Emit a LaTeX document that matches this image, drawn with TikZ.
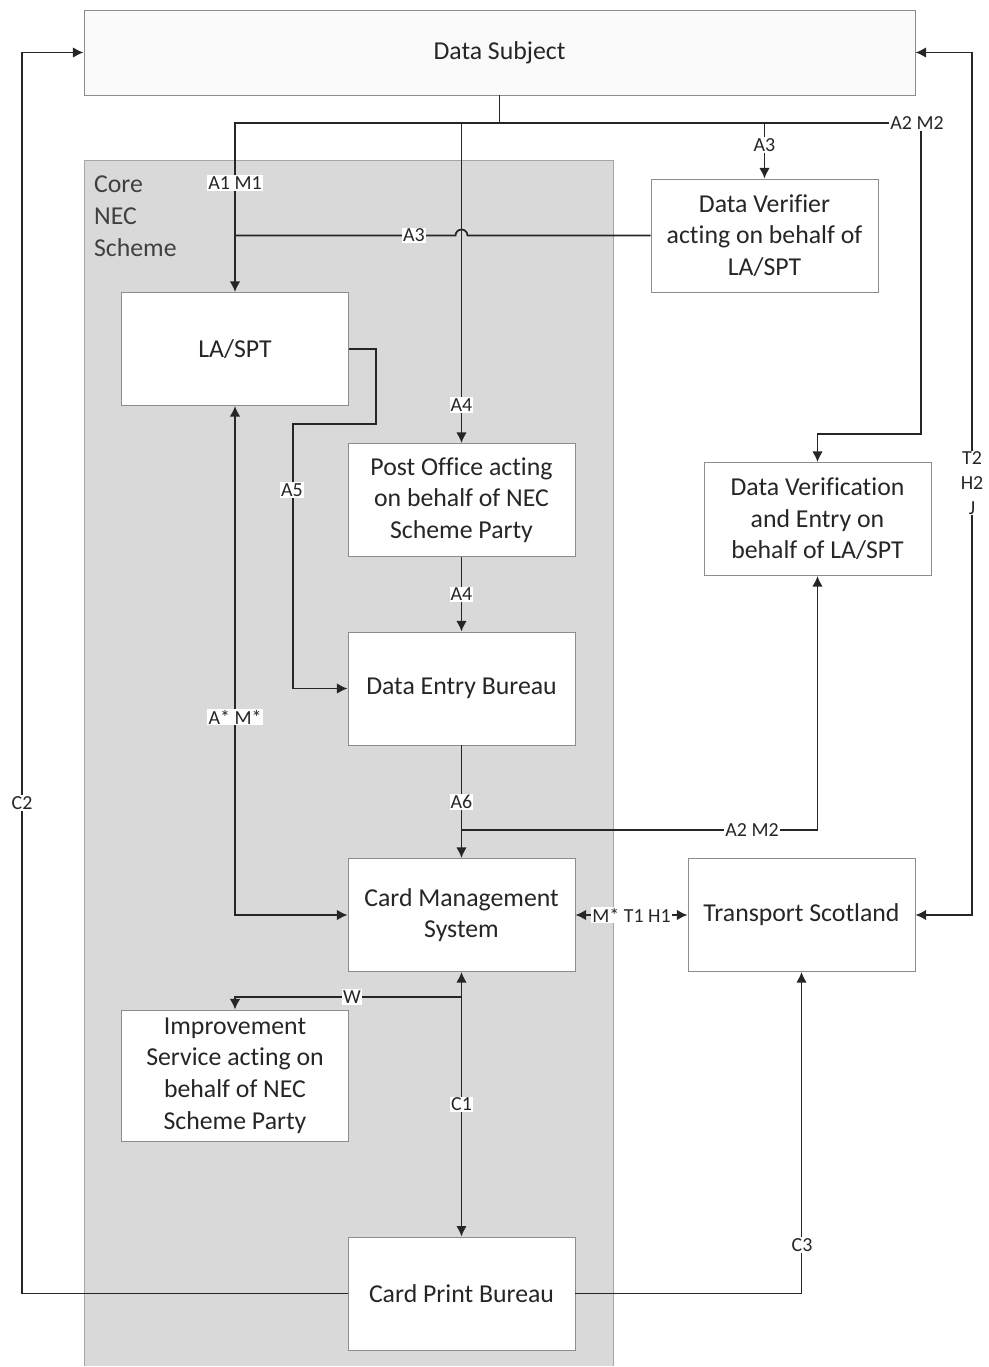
\documentclass[tikz,border=0pt]{standalone}
\usepackage{fontspec}
\setmainfont{Carlito}[Ligatures=NoCommon]
\usetikzlibrary{arrows.meta}
\definecolor{CoreGrey}{HTML}{D9D9D9}
\definecolor{CoreEdge}{HTML}{A6A6A6}
\definecolor{BoxEdge}{HTML}{8C8C8C}
\definecolor{FlowLine}{HTML}{262626}
\definecolor{SubjectFill}{HTML}{FAFAFA}
\tikzstyle{party_box}=[rectangle,
                       minimum width=6.81cm,
                       minimum height=3.39cm,
                       draw=BoxEdge,
                       fill=white,
                       line width=0.8pt,
                       align=center,
                       text=black!85,
                       font=\fontsize{22}{27}\selectfont, ]
\tikzstyle{flow}=[draw=FlowLine, line width=1.5pt]
\tikzstyle{flow_arrow}=[flow, -{Latex[length=9pt,width=9pt]}]
\tikzstyle{flow_both}=[flow, {Latex[length=9pt,width=9pt]}-{Latex[length=9pt,width=9pt]}]
\tikzstyle{flow_label}=[fill=white, inner sep=1pt, text=black!85,
                        font=\fontsize{17}{21}\selectfont]

\begin{document}
\begin{tikzpicture}[x=0.03cm, y=-0.03cm]
    \useasboundingbox (0,0) rectangle (989,1367);

    % core scheme area
    \fill[CoreGrey] (84,160) rectangle (613,1366);
    \draw[CoreEdge, line width=0.8pt] (84,1366) -- (84,160) -- (613,160) -- (613,1366);
    \node at (90,172) (core_name) [anchor=north west, align=left, text=black!75,
                                   font=\fontsize{22}{27}\selectfont] {Core\\NEC\\Scheme};

    % parties
    \node at (499.5, 52.5) (subject) [party_box, fill=SubjectFill,
                                      minimum width=24.93cm, minimum height=2.55cm] {Data Subject};
    \node at (235, 349) (la_spt) [party_box] {LA/SPT};
    \node at (764.5, 235.5) (verifier) [party_box] {Data Verifier\\acting on behalf of\\LA/SPT};
    \node at (461.5, 500) (post_office) [party_box] {Post Office acting\\on behalf of NEC\\Scheme Party};
    \node at (817.5, 519) (verification_entry) [party_box] {Data Verification\\and Entry on\\behalf of LA/SPT};
    \node at (461.5, 688.5) (entry_bureau) [party_box] {Data Entry Bureau};
    \node at (461.5, 915) (cms) [party_box] {Card Management\\System};
    \node at (801.5, 915) (transport) [party_box] {Transport Scotland};
    \node at (235, 1075.5) (improvement) [party_box, minimum height=3.93cm]
          {Improvement\\Service acting on\\behalf of NEC\\Scheme Party};
    \node at (461.5, 1293.5) (print_bureau) [party_box] {Card Print Bureau};

    % junction points
    \coordinate (split) at (499.5, 123);
    \coordinate (a2_top) at (921, 123);
    \coordinate (a2_bend) at (921, 434);
    \coordinate (a5_top) at (376, 349);
    \coordinate (a5_mid) at (293, 424);
    \coordinate (a6_split) at (461.5, 830);
    \coordinate (w_split) at (461.5, 997);
    \coordinate (t2_top) at (972, 52.5);
    \coordinate (c2_low) at (22, 1293.5);

    % flows from the data subject
    \draw[flow] (subject.south) -- (split);
    \draw[flow_arrow] (split) -| (la_spt.north);
    \draw[flow_arrow] (split) -| (verifier.north);
    \draw[flow_arrow] (split) -- (a2_top) -- (a2_bend) -| (verification_entry.north);
    \draw[flow_arrow] (post_office.north |- split) -- (post_office.north);
    \draw[flow] (verifier.west) -- (467.5, 235.5) arc (0:180:0.18cm) -- (la_spt.north |- verifier.west);

    % flows inside the scheme
    \draw[flow_arrow] (la_spt.east) -- (a5_top) |- (a5_mid) |- (entry_bureau.west);
    \draw[flow_arrow] (post_office.south) -- (entry_bureau.north) node[midway, flow_label] {A4};
    \draw[flow_arrow] (entry_bureau.south) -- (cms.north) node[midway, flow_label] {A6};
    \draw[flow_arrow] (a6_split) -| (verification_entry.south);
    \draw[flow_both] (la_spt.south) |- (cms.west);
    \draw[flow_both] (cms.east) -- (transport.west) node[midway, flow_label] {M* T1 H1};
    \draw[flow_both] (cms.south) -- (print_bureau.north) node[midway, flow_label] {C1};
    \draw[flow_arrow] (w_split) -| (improvement.north);

    % flows back out
    \draw[flow_both] (subject.east) -- (t2_top) |- (transport.east);
    \draw[flow_arrow] (print_bureau.west) -- (c2_low) |- (subject.west);
    \draw[flow_arrow] (print_bureau.east) -| (transport.south);

    % labels
    \node at (235, 183) (lbl_a1) [flow_label] {A1 M1};
    \node at (764.5, 145) (lbl_a3_top) [flow_label] {A3};
    \node at (917, 123) (lbl_a2_top) [flow_label] {A2 M2};
    \node at (414, 235.5) (lbl_a3) [flow_label] {A3};
    \node at (461.5, 405) (lbl_a4) [flow_label] {A4};
    \node at (292, 490) (lbl_a5) [flow_label] {A5};
    \node at (752, 830) (lbl_a2) [flow_label] {A2 M2};
    \node at (235, 717) (lbl_astar) [flow_label] {A* M*};
    \node at (972, 483) (lbl_t2) [flow_label, align=center] {T2\\H2\\J};
    \node at (22, 803) (lbl_c2) [flow_label] {C2};
    \node at (802, 1245) (lbl_c3) [flow_label] {C3};
    \node at (352, 997) (lbl_w) [flow_label] {W};
  \end{tikzpicture}
\end{document}
